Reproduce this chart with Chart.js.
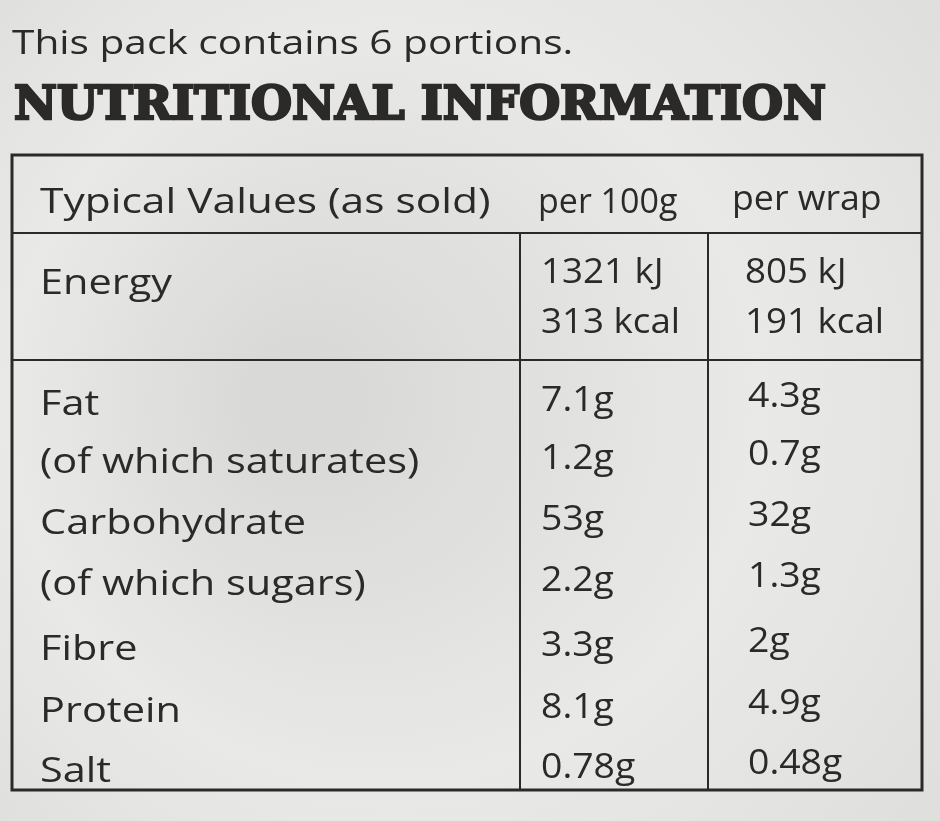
<!DOCTYPE html>
<html><head><meta charset="utf-8">
<script src="https://cdn.jsdelivr.net/npm/chart.js@4"></script>
<style>html,body{margin:0;padding:0;background:#e6e6e4;}canvas{display:block}</style>
</head><body>
<canvas id="c" width="940" height="821"></canvas>
<script>
const nutrients = ["Fat","(of which saturates)","Carbohydrate","(of which sugars)","Fibre","Protein","Salt"];
const per100g = ["7.1g","1.2g","53g","2.2g","3.3g","8.1g","0.78g"];
const perWrap = ["4.3g","0.7g","32g","1.3g","2g","4.9g","0.48g"];
const headers = ["Typical Values (as sold)","per 100g","per wrap"];
const energyLabel = "Energy";
const energy100g = ["1321 kJ","313 kcal"];
const energyWrap = ["805 kJ","191 kcal"];
const subtitle = "This pack contains 6 portions.";
const title = "NUTRITIONAL INFORMATION";

const L = {left:12,right:922,top:155,bottom:790,col1:520,col2:708,hdrBottom:233,enBottom:360,
  rowY:[405,463,524,585,650,712,772], hdrY:203, enY:[273,323]};
const ink = "#2b2a28";

const tablePlugin = {
  id:'table',
  beforeDraw(chart){
    const c=chart.ctx, X=chart.scales.x, Y=chart.scales.y;
    const px=v=>X.getPixelForValue(v), py=v=>Y.getPixelForValue(v);
    const g=c.createRadialGradient(300,400,50,470,410,700);
    g.addColorStop(0,'#d9d9d7');g.addColorStop(0.5,'#e9e9e7');g.addColorStop(1,'#dcdcda');
    c.fillStyle=g;c.fillRect(0,0,chart.width,chart.height);
    c.fillStyle=ink;c.textBaseline='middle';
    const txt=(t,x,y,sx)=>{c.save();c.translate(px(x),py(y));c.scale(sx||1.22,1);c.fillText(t,0,0);c.restore();};
    c.font='500 32px "Open Sans"';txt(subtitle,12,45,1.27);
    c.save();c.font='900 46px "DejaVu Serif"';
    const w=c.measureText(title).width;c.translate(px(14),py(107));c.scale(812/w,1.02);
    c.strokeStyle=ink;c.lineWidth=2.5;c.strokeText(title,0,0);
    c.fillText(title,0,0);c.restore();
    c.strokeStyle=ink;c.lineWidth=3;
    c.strokeRect(px(L.left),py(L.top),px(L.right)-px(L.left),py(L.bottom)-py(L.top));
    c.lineWidth=2;c.beginPath();
    [[L.left,L.hdrBottom,L.right,L.hdrBottom],[L.left,L.enBottom,L.right,L.enBottom],
     [L.col1,L.hdrBottom,L.col1,L.bottom],[L.col2,L.hdrBottom,L.col2,L.bottom]].forEach(s=>{
      c.moveTo(px(s[0]),py(s[1]));c.lineTo(px(s[2]),py(s[3]));});
    c.stroke();
    c.font='500 34px "Open Sans"';
    txt(headers[0],40,L.hdrY,1.25);
    txt(headers[1],538,L.hdrY,1.0);
    txt(headers[2],732,L.hdrY-3,1.05);
    txt(energyLabel,40,284);
    energy100g.forEach((t,i)=>txt(t,541,L.enY[i],1.08));
    energyWrap.forEach((t,i)=>txt(t,745,L.enY[i],1.08));
    nutrients.forEach((t,i)=>{
      txt(t,40,L.rowY[i]);
      txt(per100g[i],541,L.rowY[i]-4,1.1);
      txt(perWrap[i],748,L.rowY[i]-8,1.1);
    });
  }
};
new Chart(document.getElementById('c'),{
  type:'scatter',
  data:{datasets:[{data:[]}]},
  options:{responsive:false,animation:false,layout:{padding:0},
    plugins:{legend:{display:false},tooltip:{enabled:false}},
    scales:{x:{type:'linear',min:0,max:940,display:false},
            y:{type:'linear',min:0,max:821,reverse:true,display:false}}},
  plugins:[tablePlugin]
});
</script>
</body></html>
